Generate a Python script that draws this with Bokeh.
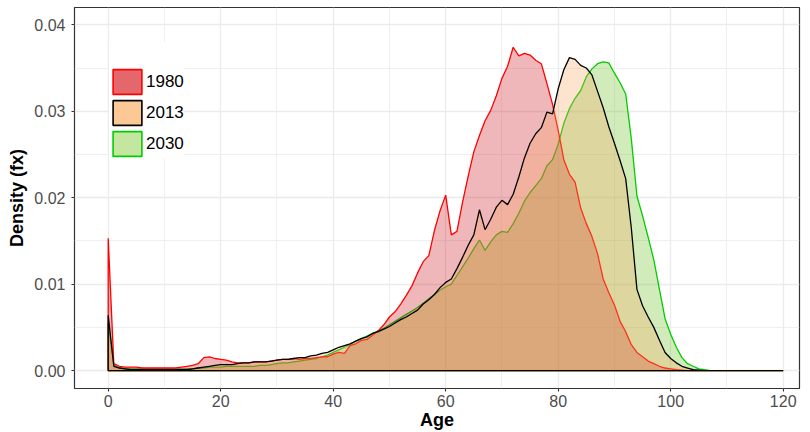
from bokeh.plotting import figure
from bokeh.models import FixedTicker, PrintfTickFormatter, Range1d, Legend, LegendItem
from bokeh.embed import file_html
from bokeh.resources import INLINE

ages = list(range(121))

dens_1980 = [
    0.0153, 0.0008, 0.0005, 0.0004, 0.0004, 0.0004, 0.0003, 0.0003, 0.0003, 0.0003,
    0.0003, 0.0003, 0.0003, 0.0004, 0.0005, 0.0006, 0.0008, 0.0015, 0.0016, 0.0014,
    0.0013, 0.0012, 0.0010, 0.0009, 0.0009, 0.0009, 0.0010, 0.0010, 0.0010, 0.0011,
    0.0012, 0.0013, 0.0013, 0.0014, 0.0013, 0.0014, 0.0014, 0.0015, 0.0016, 0.0016,
    0.0019, 0.0021, 0.0020, 0.0029, 0.0031, 0.0035, 0.0036, 0.0041, 0.0046, 0.0053,
    0.0062, 0.0068, 0.0077, 0.0087, 0.0098, 0.0113, 0.0126, 0.0133, 0.0162, 0.0185,
    0.0203, 0.0157, 0.0161, 0.0195, 0.0225, 0.0253, 0.0272, 0.0289, 0.0301, 0.0318,
    0.0338, 0.0352, 0.0374, 0.0364, 0.0367, 0.0365, 0.0359, 0.0355, 0.0332, 0.0308,
    0.0278, 0.0244, 0.0227, 0.0218, 0.0188, 0.0170, 0.0155, 0.0135, 0.0106, 0.0090,
    0.0076, 0.0057, 0.0045, 0.0030, 0.0021, 0.0016, 0.0011, 0.0008, 0.0005, 0.0003,
    0.0002, 0.0001, 0.00005, 0.0, 0.0, 0.0, 0.0, 0.0, 0.0, 0.0,
    0.0, 0.0, 0.0, 0.0, 0.0, 0.0, 0.0, 0.0, 0.0, 0.0, 0.0,
]

dens_2013 = [
    0.0064, 0.0005, 0.0003, 0.0002, 0.0001, 0.0001, 0.0001, 0.0001, 0.0001, 0.0001,
    0.0001, 0.0001, 0.0001, 0.0001, 0.0001, 0.0002, 0.0003, 0.0004, 0.0005, 0.0006,
    0.0007, 0.0007, 0.0007, 0.0008, 0.0009, 0.0009, 0.0010, 0.0010, 0.0010, 0.0011,
    0.0012, 0.0013, 0.0013, 0.0014, 0.0015, 0.0015, 0.0017, 0.0018, 0.0020, 0.0021,
    0.0024, 0.0027, 0.0029, 0.0031, 0.0034, 0.0037, 0.0039, 0.0043, 0.0045, 0.0048,
    0.0051, 0.0055, 0.0059, 0.0062, 0.0066, 0.0070, 0.0077, 0.0082, 0.0088, 0.0096,
    0.0102, 0.0106, 0.0118, 0.0131, 0.0145, 0.0157, 0.0186, 0.0163, 0.0175, 0.0189,
    0.0197, 0.0192, 0.0204, 0.0224, 0.0246, 0.0263, 0.0274, 0.0281, 0.0299, 0.0297,
    0.0326, 0.0348, 0.0362, 0.0360, 0.0353, 0.0350, 0.0342, 0.0323, 0.0304, 0.0282,
    0.0263, 0.0243, 0.0222, 0.0165, 0.0094, 0.0075, 0.0062, 0.0050, 0.0035, 0.0021,
    0.0014, 0.0009, 0.0005, 0.0003, 0.0001, 0.00005, 0.0, 0.0, 0.0, 0.0,
    0.0, 0.0, 0.0, 0.0, 0.0, 0.0, 0.0, 0.0, 0.0, 0.0, 0.0,
]

dens_2030 = [
    0.0055, 0.0006, 0.0003, 0.0002, 0.0002, 0.0002, 0.0002, 0.0002, 0.0002, 0.0002,
    0.0002, 0.0002, 0.0002, 0.0002, 0.0002, 0.0002, 0.0003, 0.0003, 0.0004, 0.0004,
    0.0004, 0.0005, 0.0005, 0.0005, 0.0005, 0.0005, 0.0005, 0.0006, 0.0006, 0.0007,
    0.0008, 0.0009, 0.0009, 0.0010, 0.0011, 0.0012, 0.0013, 0.0014, 0.0016, 0.0018,
    0.0021, 0.0024, 0.0027, 0.0030, 0.0034, 0.0037, 0.0040, 0.0043, 0.0046, 0.0049,
    0.0053, 0.0057, 0.0061, 0.0065, 0.0069, 0.0073, 0.0078, 0.0083, 0.0088, 0.0093,
    0.0097, 0.0100, 0.0110, 0.0120, 0.0130, 0.0141, 0.0151, 0.0139, 0.0149, 0.0157,
    0.0161, 0.0160, 0.0170, 0.0182, 0.0196, 0.0206, 0.0214, 0.0222, 0.0237, 0.0244,
    0.0262, 0.0286, 0.0303, 0.0315, 0.0324, 0.0340, 0.0349, 0.0355, 0.0357, 0.0356,
    0.0344, 0.0333, 0.0320, 0.0268, 0.0202, 0.0179, 0.0154, 0.0128, 0.0094, 0.0060,
    0.0042, 0.0027, 0.0015, 0.0008, 0.0005, 0.0002, 0.0001, 0.0, 0.0, 0.0,
    0.0, 0.0, 0.0, 0.0, 0.0, 0.0, 0.0, 0.0, 0.0, 0.0, 0.0,
]

years = ["1980", "2013", "2030"]
x_ticks = [0, 20, 40, 60, 80, 100, 120]
x_minor = [10, 30, 50, 70, 90, 110]
y_ticks = [0.0, 0.01, 0.02, 0.03, 0.04]
y_minor = [0.005, 0.015, 0.025, 0.035]

FONT = "Liberation Sans"
NAN = float("nan")

p = figure(width=808, height=432, output_backend="svg", toolbar_location=None,
           x_range=Range1d(-5.99, 122.9), y_range=Range1d(-0.00207, 0.0420),
           min_border_left=74, min_border_right=9, min_border_top=7, min_border_bottom=42)

p.background_fill_color = "white"
p.border_fill_color = "white"
p.outline_line_color = "#333333"
p.outline_line_width = 1.2

p.xaxis.ticker = FixedTicker(ticks=x_ticks, minor_ticks=x_minor)
p.yaxis.ticker = FixedTicker(ticks=y_ticks, minor_ticks=y_minor)
p.yaxis.formatter = PrintfTickFormatter(format="%.2f")
for g in (p.xgrid, p.ygrid):
    g.grid_line_color = "#EBEBEB"
    g.grid_line_width = 1.3
    g.minor_grid_line_color = "#EBEBEB"
    g.minor_grid_line_width = 0.8

for ax in (p.xaxis, p.yaxis):
    ax.axis_line_color = None
    ax.major_tick_line_color = "#333333"
    ax.major_tick_line_width = 1.1
    ax.major_tick_out = 3
    ax.major_tick_in = 0
    ax.minor_tick_line_color = None
    ax.major_label_text_font = FONT
    ax.major_label_text_font_size = "16px"
    ax.major_label_text_color = "#4D4D4D"
    ax.axis_label_text_font = FONT
    ax.axis_label_text_font_size = "18px"
    ax.axis_label_text_font_style = "bold"
    ax.axis_label_text_color = "black"

p.xaxis.major_label_standoff = 2
p.xaxis.axis_label_standoff = 0
p.yaxis.major_label_standoff = 5
p.yaxis.axis_label_standoff = 4

p.xaxis.axis_label = "Age"
p.yaxis.axis_label = "Density (fx)"

fill_cols = {"1980": (202, 18, 28), "2013": (248, 165, 92), "2030": (102, 188, 28)}
line_cols = {"1980": "#FF0000", "2013": "#000000", "2030": "#00CD00"}
legend_cols = {"1980": "#E4676C", "2013": "#FCC895", "2030": "#C5E6A0"}
series = {"1980": dens_1980, "2013": dens_2013, "2030": dens_2030}

# drawn in order 2030, 1980, 2013 (2013 on top)
for yr in ["2030", "1980", "2013"]:
    vals = series[yr]
    xs = [ages[0]] + ages + [ages[-1]]
    ys = [0.0] + vals + [0.0]
    p.patch(xs, ys, fill_color=fill_cols[yr], fill_alpha=0.3,
            line_color=line_cols[yr], line_width=1.3)

# legend keys: renderers with a single NaN entry (draw nothing in the plot)
items = []
for yr in years:
    r = p.quad(left=[NAN], right=[NAN], top=[NAN], bottom=[NAN],
               fill_color=legend_cols[yr], line_color=line_cols[yr], line_width=1.6)
    items.append(LegendItem(label=yr, renderers=[r], index=0))

leg = Legend(items=items, location="top_left")
leg.title = " "
leg.title_text_font_size = "16px"
leg.title_standoff = 6
leg.margin = 35
leg.padding = 8
leg.spacing = 0
leg.glyph_width = 36
leg.glyph_height = 31
leg.label_standoff = 1
leg.label_text_font = FONT
leg.label_text_font_size = "17px"
leg.label_text_color = "black"
leg.border_line_color = None
leg.background_fill_color = "white"
leg.background_fill_alpha = 1.0
p.add_layout(leg, "center")

open("out.html", "w").write(file_html(p, INLINE))
